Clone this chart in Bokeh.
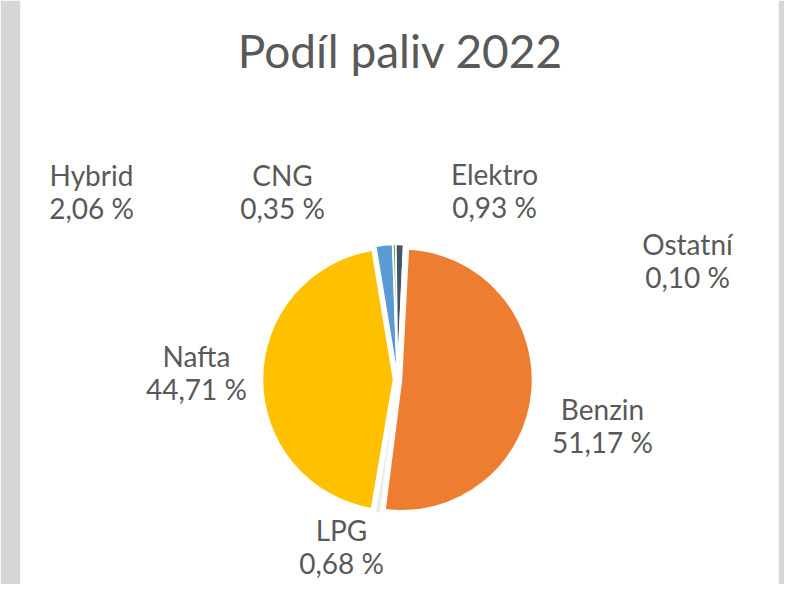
import math
from bokeh.plotting import figure
from bokeh.models import Range1d, ColumnDataSource
from bokeh.core.properties import value
from bokeh.embed import file_html
from bokeh.resources import INLINE

# ---- data ----
categories = ["Benzin", "LPG", "Nafta", "Hybrid", "CNG", "Elektro", "Ostatní"]
shares = [51.17, 0.68, 44.71, 2.06, 0.35, 0.93, 0.10]
title = "Podíl paliv 2022"

# ---- styles / layout ----
colors = ["#ED7D31", "#ECECEC", "#FFC000", "#5B9BD5", "#70AD47", "#44546A", "#4472C4"]
label_pos = {  # reference-pixel positions of label block centres
    "Benzin": (602, 425),
    "LPG": (341, 546),
    "Nafta": (196, 372),
    "Hybrid": (91, 191),
    "CNG": (282, 191),
    "Elektro": (494, 190),
    "Ostatní": (687, 260),
}
CX, CY = 397, 379       # pie centre (reference pixels)
R = 131                  # radius (px)
EXPLODE = 4              # explosion offset (px)
START = 3.0              # first slice angle, degrees clockwise from 12 o'clock

W, H = 784, 584
p = figure(width=W, height=H, output_backend="svg", toolbar_location=None,
           min_border_left=20, min_border_right=6, min_border_top=0, min_border_bottom=0,
           x_range=Range1d(20, 778), y_range=Range1d(16, 600))
p.axis.visible = False
p.grid.visible = False
p.outline_line_color = None
p.border_fill_color = "#D6D6D6"
p.background_fill_color = "white"

def ry(Y):
    return 600 - Y

total = sum(shares)
xs, ys, sa, ea = [], [], [], []
acc = START
for s in shares:
    t1 = acc
    t2 = acc + s / total * 360.0
    acc = t2
    mid = math.radians((t1 + t2) / 2)
    xs.append(CX + EXPLODE * math.sin(mid))
    ys.append(ry(CY) + EXPLODE * math.cos(mid))
    sa.append(math.radians(90 - t2))
    ea.append(math.radians(90 - t1))

src = ColumnDataSource(dict(x=xs, y=ys, start=sa, end=ea, color=colors, cat=categories))
p.wedge(x="x", y="y", radius=R, radius_units="screen", start_angle="start", end_angle="end",
        fill_color="color", line_color="white", line_width=1.5, source=src)

labels = []
lx, ly = [], []
for c, s in zip(categories, shares):
    labels.append(f"{c}\n" + f"{s:.2f}".replace(".", ",") + " %")
    lx.append(label_pos[c][0])
    ly.append(ry(label_pos[c][1]))
p.text(x=lx, y=ly, text=labels, text_align="center", text_baseline="middle",
       text_font=value("Lato"), text_font_size="28px", text_color="#595959",
       text_line_height=0.95)

p.text(x=[400], y=[ry(50)], text=[title], text_align="center", text_baseline="middle",
       text_font=value("Lato"), text_font_size="46px", text_color="#595959")

open("out.html", "w").write(file_html(p, INLINE))
